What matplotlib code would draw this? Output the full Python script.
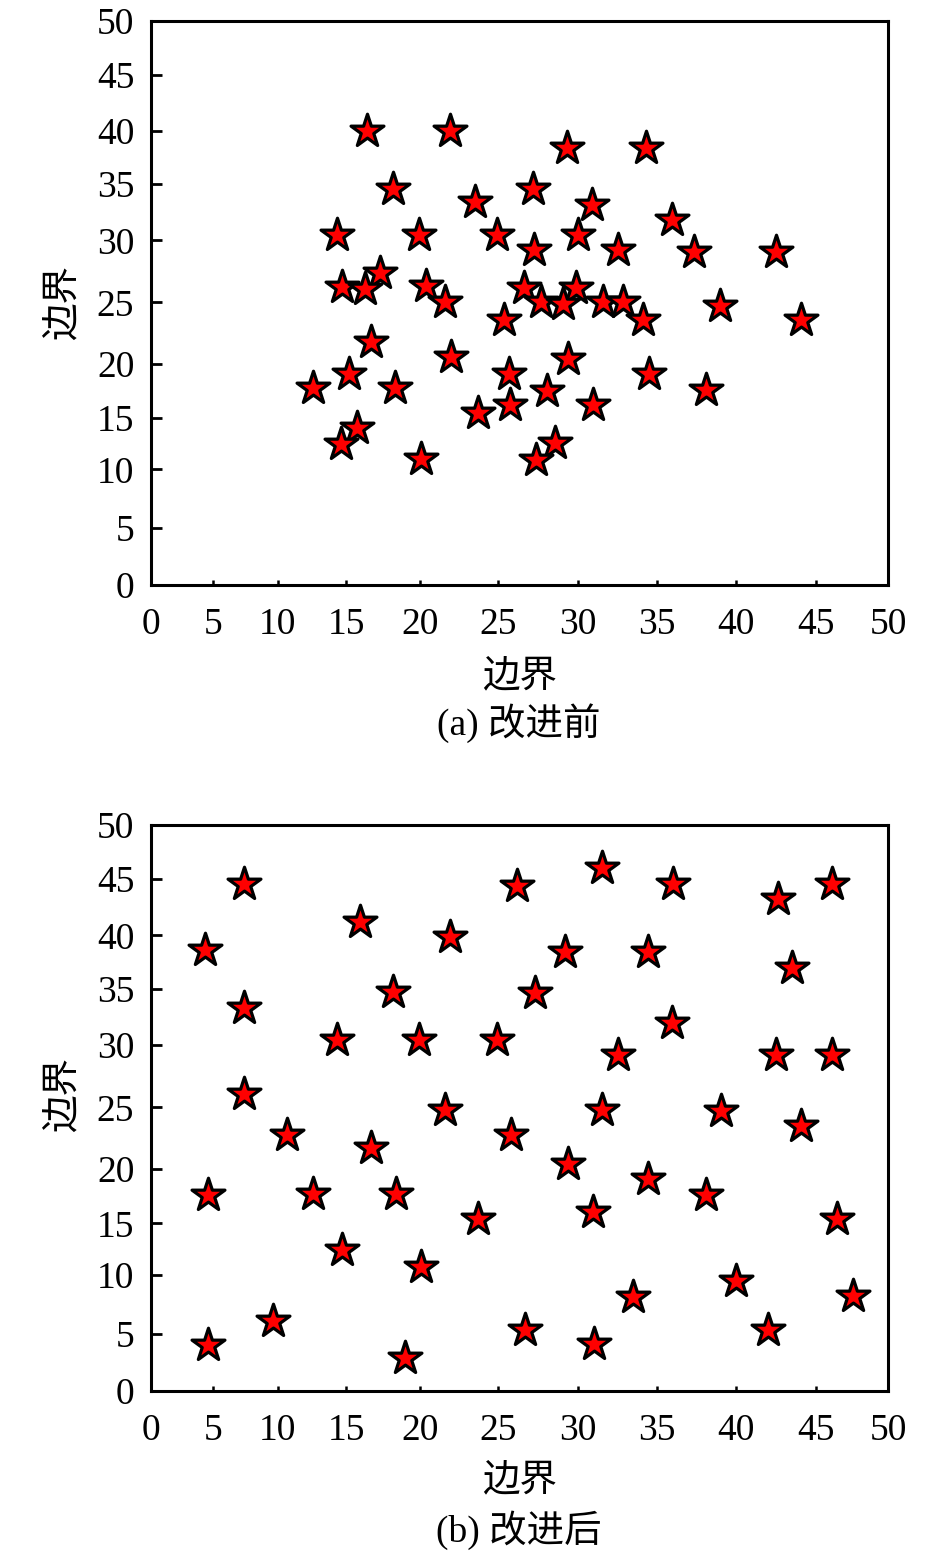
import numpy as np
import matplotlib
matplotlib.use("Agg")
import matplotlib.pyplot as plt

# ---------------- data ----------------
x_before = [16.4, 21.9, 29.3, 34.3, 18.2, 23.5, 27.2, 30.9, 35.95, 14.3,
            19.9, 24.9, 30.0, 27.25, 32.5, 37.3, 42.5, 17.3, 14.7, 16.3,
            20.4, 26.6, 29.9, 21.6, 27.7, 29.1, 31.6, 32.85, 39.0, 25.4,
            34.1, 44.1, 16.7, 22.0, 29.4, 15.2, 25.7, 34.5, 12.6, 18.3,
            28.1, 38.1, 23.7, 25.75, 30.95, 15.7, 14.6, 28.6, 20.05, 27.4]
y_before = [40.0, 40.0, 38.4, 38.4, 34.6, 33.4, 34.55, 33.1, 31.8, 30.5,
            30.5, 30.5, 30.5, 29.2, 29.2, 29.1, 29.1, 27.4, 26.25, 26.1,
            26.3, 26.2, 26.2, 25.0, 25.0, 24.9, 25.0, 25.0, 24.75, 23.6,
            23.6, 23.6, 21.8, 20.6, 20.4, 19.1, 19.1, 19.1, 17.8, 17.8,
            17.5, 17.6, 15.5, 16.2, 16.2, 14.0, 12.5, 12.6, 11.05, 10.9]

x_after = [7.4, 4.4, 7.4, 7.4, 10.7, 4.6, 9.6, 4.6, 15.9, 14.3,
           18.2, 19.9, 16.7, 12.6, 18.4, 14.7, 20.05, 19.0, 21.9, 21.6,
           23.7, 24.9, 26.2, 27.3, 25.8, 26.7, 29.2, 29.4, 31.5, 32.5,
           31.5, 30.95, 31.0, 33.5, 34.4, 34.4, 36.0, 35.95, 38.1, 39.05,
           40.0, 42.6, 43.5, 42.5, 44.1, 42.0, 46.1, 46.1, 46.5, 47.6]
y_after = [44.55, 38.6, 33.3, 26.1, 22.8, 17.6, 6.1, 4.05, 41.2, 30.5,
           34.7, 30.5, 21.7, 17.7, 17.7, 12.45, 10.8, 2.85, 39.8, 24.8,
           15.4, 30.5, 44.4, 34.6, 22.8, 5.3, 38.4, 20.4, 46.0, 29.2,
           24.8, 16.1, 4.1, 8.1, 38.4, 19.1, 44.5, 32.0, 17.6, 24.7,
           9.5, 43.2, 36.9, 29.2, 23.5, 5.3, 44.5, 29.2, 15.4, 8.2]

tick_values = [0, 5, 10, 15, 20, 25, 30, 35, 40, 45, 50]
tick_labels = [str(v) for v in tick_values]
axis_label = "边界"
captions = ["(a) 改进前", "(b) 改进后"]

# uneven axis scales of the original figure (fraction of axis length per tick)
x_frac = [0.0, 0.084, 0.172, 0.265, 0.365, 0.471, 0.579, 0.687, 0.794, 0.902, 1.0]
y_frac = [0.0, 0.101, 0.205, 0.296, 0.392, 0.501, 0.611, 0.711, 0.805, 0.905, 1.0]


def make_funcs(frac):
    v = np.array(tick_values, dtype=float)
    f = np.array(frac, dtype=float)
    fwd = lambda a: np.interp(a, v, f)
    inv = lambda a: np.interp(a, f, v)
    return fwd, inv


# ---------------- figure ----------------
W, H = 945, 1556
fig = plt.figure(figsize=(W / 100, H / 100), dpi=100)

serif = ["Liberation Serif", "DejaVu Serif"]
cjk = ["Noto Sans CJK SC", "DejaVu Sans"]
mixed = ["Liberation Serif", "Noto Sans CJK SC"]

panels = [
    (x_before, y_before, 21, 585, 676, 303, 723),
    (x_after, y_after, 825, 1391, 1480, 1095, 1530),
]
left_px, right_px = 151, 888

for i, (xs, ys, top_px, bot_px, xl_px, yl_px, cap_px) in enumerate(panels):
    ax = fig.add_axes([left_px / W, 1 - bot_px / H,
                       (right_px - left_px) / W, (bot_px - top_px) / H])
    ax.set_xscale("function", functions=make_funcs(x_frac))
    ax.set_yscale("function", functions=make_funcs(y_frac))
    ax.set_xlim(0, 50)
    ax.set_ylim(0, 50)

    ax.scatter(xs, ys, marker="*", s=620, c="#ff0000",
               edgecolors="black", linewidths=2.3, zorder=3, clip_on=False)

    ax.set_xticks(tick_values)
    ax.set_xticklabels(tick_labels, fontfamily=serif, fontsize=27)
    ax.set_yticks(tick_values)
    ax.set_yticklabels(tick_labels, fontfamily=serif, fontsize=27)
    ax.xaxis.set_minor_locator(plt.NullLocator())
    ax.yaxis.set_minor_locator(plt.NullLocator())
    ax.tick_params(axis="x", direction="in", length=3.5, width=1.8, pad=16)
    ax.tick_params(axis="y", direction="in", length=8, width=2, pad=12)
    for sp in ax.spines.values():
        sp.set_linewidth(2.2)

    ax.set_xlabel(axis_label, fontfamily=cjk, fontsize=27, va="center")
    ax.xaxis.set_label_coords(0.5, (bot_px - xl_px) / (bot_px - top_px))
    ax.set_ylabel(axis_label, fontfamily=cjk, fontsize=27, va="center")
    ax.yaxis.set_label_coords((62 - left_px) / (right_px - left_px),
                              (bot_px - yl_px) / (bot_px - top_px))

    fig.text(519 / W, 1 - cap_px / H, captions[i], fontfamily=mixed,
             fontsize=27, ha="center", va="center")

fig.savefig("out.png", dpi=100, facecolor="white")
